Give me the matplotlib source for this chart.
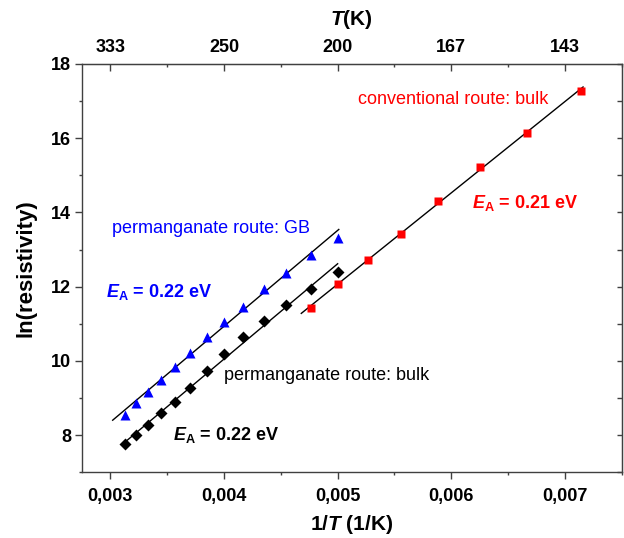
import matplotlib
matplotlib.use('Agg')
import matplotlib.pyplot as plt
import numpy as np
from matplotlib.ticker import MultipleLocator

plt.rcParams['font.family'] = ['Liberation Sans', 'DejaVu Sans']
plt.rcParams['mathtext.fontset'] = 'custom'
plt.rcParams['mathtext.rm'] = 'Liberation Sans'
plt.rcParams['mathtext.bf'] = 'Liberation Sans:bold'
plt.rcParams['mathtext.it'] = 'Liberation Sans:italic'
plt.rcParams['mathtext.bfit'] = 'Liberation Sans:bold:italic'

# temperatures (K) and ln(resistivity)
T_perm = [320, 310, 300, 290, 280, 270, 260, 250, 240, 230, 220, 210, 200]
gb_perm = [8.54, 8.88, 9.17, 9.49, 9.83, 10.22, 10.65, 11.04, 11.46, 11.93, 12.38, 12.85, 13.32]
bulk_perm = [7.76, 8.01, 8.27, 8.59, 8.90, 9.26, 9.74, 10.19, 10.65, 11.08, 11.51, 11.93, 12.40]
T_conv = [210, 200, 190, 180, 170, 160, 150, 140]
bulk_conv = [11.42, 12.07, 12.72, 13.42, 14.32, 15.23, 16.13, 17.28]

bottom_ticks = [0.003, 0.004, 0.005, 0.006, 0.007]
bottom_labels = ['0,003', '0,004', '0,005', '0,006', '0,007']
top_labels = ['333', '250', '200', '167', '143']

x_perm = 1.0 / np.array(T_perm)
x_conv = 1.0 / np.array(T_conv)

blue = '#0000ff'
red = '#ff0000'
spine_c = '#404040'

fig = plt.figure(figsize=(6.24, 5.38), dpi=100)
ax = fig.add_axes([82 / 624, 1 - 472.3 / 538, (621.7 - 82) / 624, (472.3 - 64) / 538])

# linear fits
def fit_line(x, y, x0, x1, **kw):
    p = np.polyfit(x, y, 1)
    xx = np.array([x0, x1])
    ax.plot(xx, np.polyval(p, xx), color='black', lw=1.0, zorder=2, **kw)

fit_line(x_perm, gb_perm, 0.00302, 0.00501)
fit_line(x_perm, bulk_perm, 0.00310, 0.00500)
fit_line(x_conv, bulk_conv, 0.00468, 0.00716)

ax.plot(x_perm, gb_perm, '^', color=blue, ms=7.5, mec='none', zorder=3)
ax.plot(x_perm, bulk_perm, 'D', color='black', ms=5.8, mec='none', zorder=3)
ax.plot(x_conv, bulk_conv, 's', color=red, ms=6, mec='none', zorder=3)

ax.set_xlim(0.00275, 0.0075)
ax.set_ylim(7, 18)

ax.set_xticks(bottom_ticks, bottom_labels)
ax.xaxis.set_minor_locator(MultipleLocator(0.0005))
ax.yaxis.set_major_locator(MultipleLocator(2))
ax.yaxis.set_minor_locator(MultipleLocator(1))
ax.tick_params(which='both', direction='out', top=False, right=False,
               color=spine_c, width=1)
ax.tick_params(which='major', length=5, labelsize=13)
ax.tick_params(which='minor', length=2.5)
ax.tick_params(axis='x', pad=6)
ax.tick_params(axis='y', pad=3)
for lab in ax.get_xticklabels() + ax.get_yticklabels():
    lab.set_fontweight('bold')
for s in ax.spines.values():
    s.set_color(spine_c)
    s.set_linewidth(1)

sec_top = ax.secondary_xaxis('top')
sec_top.set_xticks(bottom_ticks, top_labels)
sec_top.xaxis.set_minor_locator(MultipleLocator(0.0005))
sec_top.tick_params(which='both', direction='in', color=spine_c, width=1)
sec_top.tick_params(which='major', length=5, labelsize=13, pad=6)
sec_top.tick_params(which='minor', length=2.5)
for lab in sec_top.get_xticklabels():
    lab.set_fontweight('bold')
sec_top.spines['top'].set_color(spine_c)
sec_top.set_xlabel(r'$\mathbfit{T}$(K)', fontsize=15, fontweight='bold', labelpad=10)

sec_right = ax.secondary_yaxis('right')
sec_right.yaxis.set_major_locator(MultipleLocator(2))
sec_right.yaxis.set_minor_locator(MultipleLocator(1))
sec_right.tick_params(which='both', direction='in', length=3.5, color=spine_c,
                      width=1, labelright=False)
sec_right.spines['right'].set_color(spine_c)

ax.set_xlabel(r'1/$\mathbfit{T}$ (1/K)', fontsize=15, fontweight='bold', labelpad=6)
ax.set_ylabel('ln(resistivity)', fontsize=16, fontweight='bold', labelpad=10)

ax.text(0.003018, 13.44, 'permanganate route: GB', color=blue, fontsize=13, va='baseline')
ax.text(0.002959, 11.73, r'$\mathbfit{E}_{\mathbf{A}}$ = 0.22 eV', color=blue,
        fontsize=13, fontweight='bold', va='baseline')
ax.text(0.004004, 9.49, 'permanganate route: bulk', color='black', fontsize=13, va='baseline')
ax.text(0.00355, 7.87, r'$\mathbfit{E}_{\mathbf{A}}$ = 0.22 eV', color='black',
        fontsize=13, fontweight='bold', va='baseline')
ax.text(0.005183, 16.91, 'conventional route: bulk', color=red, fontsize=13, va='baseline')
ax.text(0.006184, 14.11, r'$\mathbfit{E}_{\mathbf{A}}$ = 0.21 eV', color=red,
        fontsize=13, fontweight='bold', va='baseline')

fig.savefig('out.png', dpi=100)
